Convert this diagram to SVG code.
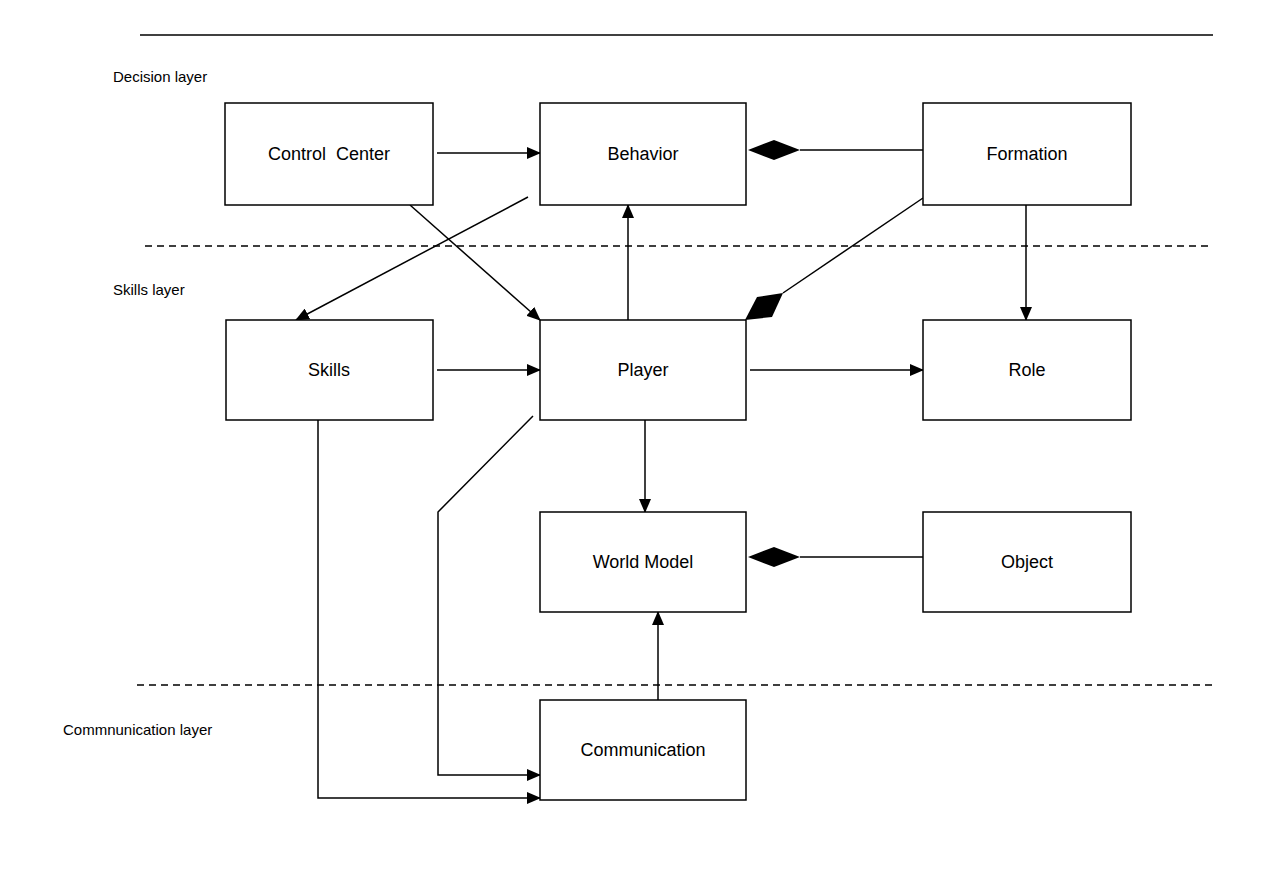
<svg xmlns="http://www.w3.org/2000/svg" width="1276" height="880" viewBox="0 0 1276 880">
<style>
.b{fill:#fff;stroke:#000;stroke-width:1.5}
.t{font-family:"Liberation Sans",Arial,sans-serif;font-size:18px;text-anchor:middle;dominant-baseline:central}
.l{font-family:"Liberation Sans",Arial,sans-serif;font-size:15px}
.c{fill:none;stroke:#000;stroke-width:1.5}
.d{stroke:#000;stroke-width:1.5;stroke-dasharray:7,5}
</style>
<defs>
<marker id="a" markerWidth="14" markerHeight="12" refX="13" refY="6" orient="auto" markerUnits="userSpaceOnUse"><path d="M0,0 L14,6 L0,12 Z" fill="#000"/></marker>
</defs>
<rect width="1276" height="880" fill="#fff"/>
<line x1="140" y1="35" x2="1213" y2="35" stroke="#000" stroke-width="1.5"/>
<line class="d" x1="145" y1="246" x2="1213" y2="246"/>
<line class="d" x1="137" y1="685" x2="1213" y2="685"/>
<text class="l" x="113" y="82">Decision layer</text>
<text class="l" x="113" y="295">Skills layer</text>
<text class="l" x="63" y="735">Commnunication layer</text>
<g id="connectors">
<line class="c" x1="437" y1="153" x2="540" y2="153" marker-end="url(#a)"/>
<line class="c" x1="800" y1="150" x2="923" y2="150"/>
<path d="M748,150 L774,140 L800,150 L774,160 Z" fill="#000"/>
<line class="c" x1="410" y1="205" x2="540" y2="320" marker-end="url(#a)"/>
<line class="c" x1="528" y1="197" x2="296" y2="320" marker-end="url(#a)"/>
<line class="c" x1="628" y1="320" x2="628" y2="205" marker-end="url(#a)"/>
<line class="c" x1="923" y1="198" x2="783" y2="293"/>
<path d="M745,320 L757,297 L783,293 L772,317 Z" fill="#000"/>
<line class="c" x1="1026" y1="205" x2="1026" y2="320" marker-end="url(#a)"/>
<line class="c" x1="437" y1="370" x2="540" y2="370" marker-end="url(#a)"/>
<line class="c" x1="750" y1="370" x2="923" y2="370" marker-end="url(#a)"/>
<line class="c" x1="645" y1="420" x2="645" y2="512" marker-end="url(#a)"/>
<line class="c" x1="800" y1="557" x2="923" y2="557"/>
<path d="M748,557 L774,547 L800,557 L774,567 Z" fill="#000"/>
<polyline class="c" points="533,416 438,512 438,775 540,775" marker-end="url(#a)"/>
<polyline class="c" points="318,420 318,798 540,798" marker-end="url(#a)"/>
<line class="c" x1="658" y1="700" x2="658" y2="612" marker-end="url(#a)"/>
</g>
<g id="cc"><rect class="b" x="225" y="103" width="208" height="102"/><text class="t" x="329" y="154">Control&#160; Center</text></g>
<g id="behavior"><rect class="b" x="540" y="103" width="206" height="102"/><text class="t" x="643" y="154">Behavior</text></g>
<g id="formation"><rect class="b" x="923" y="103" width="208" height="102"/><text class="t" x="1027" y="154">Formation</text></g>
<g id="skills"><rect class="b" x="226" y="320" width="207" height="100"/><text class="t" x="329" y="370">Skills</text></g>
<g id="player"><rect class="b" x="540" y="320" width="206" height="100"/><text class="t" x="643" y="370">Player</text></g>
<g id="role"><rect class="b" x="923" y="320" width="208" height="100"/><text class="t" x="1027" y="370">Role</text></g>
<g id="wm"><rect class="b" x="540" y="512" width="206" height="100"/><text class="t" x="643" y="562">World Model</text></g>
<g id="object"><rect class="b" x="923" y="512" width="208" height="100"/><text class="t" x="1027" y="562">Object</text></g>
<g id="comm"><rect class="b" x="540" y="700" width="206" height="100"/><text class="t" x="643" y="750">Communication</text></g>
</svg>
